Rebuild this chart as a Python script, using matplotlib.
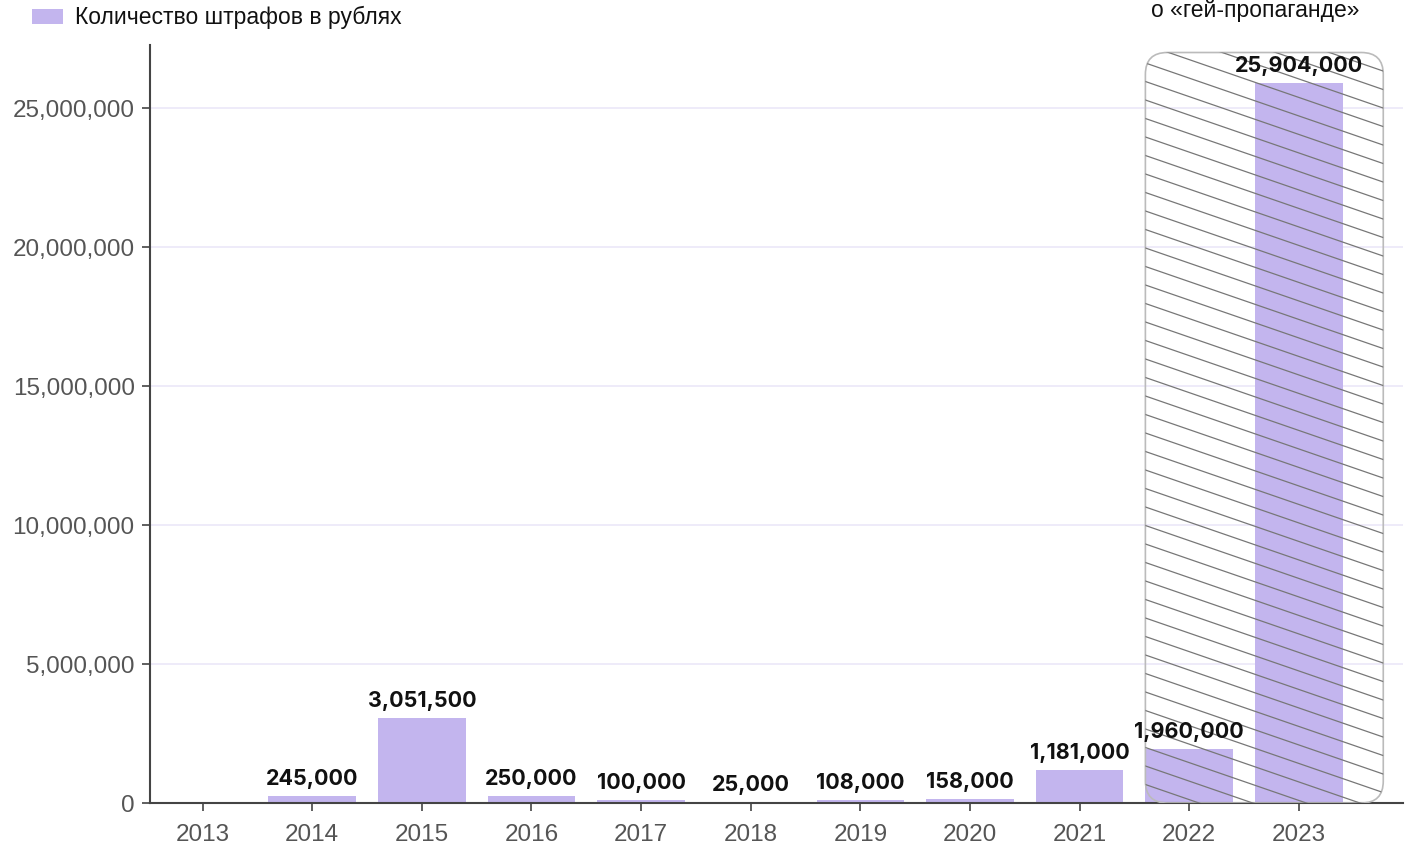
import numpy as np
import matplotlib.pyplot as plt
from matplotlib.patches import FancyBboxPatch, Rectangle

# данные
years = ['2013', '2014', '2015', '2016', '2017', '2018', '2019', '2020', '2021', '2022', '2023']
fines = [0, 245000, 3051500, 250000, 100000, 25000, 108000, 158000, 1181000, 1960000, 25904000]
y_ticks = [0, 5000000, 10000000, 15000000, 20000000, 25000000]

bar_color = '#c3b5ee'
grid_color = '#ebe8f8'

W, H = 1412, 847
fig = plt.figure(figsize=(W / 100, H / 100), dpi=100)
ax = fig.add_axes([150 / W, 1 - 803 / H, 1253 / W, 758 / H])

x = np.arange(len(years))
ax.set_xlim(-0.48, 10.95)
ax.set_ylim(0, 27270000)

ax.bar(x, fines, width=0.8, color=bar_color, zorder=2)

for xi, v in zip(x, fines):
    if v > 0:
        ax.annotate(f'{v:,}', (xi, v), xytext=(0, 5), textcoords='offset points',
                    ha='center', va='bottom', fontsize=15.5, fontweight='bold',
                    family='Inter', color='#111111', zorder=5)

ax.set_xticks(x)
ax.set_xticklabels(years)
ax.set_yticks(y_ticks)
ax.set_yticklabels([f'{t:,}' for t in y_ticks])
ax.tick_params(axis='both', length=6, width=1.2, color='#444444',
               labelsize=17.5, labelcolor='#555555', pad=5)
ax.tick_params(axis='x', pad=9)
for lab in ax.get_xticklabels() + ax.get_yticklabels():
    lab.set_family('Liberation Sans')

ax.grid(axis='y', color=grid_color, linewidth=1.2, zorder=0)
ax.set_axisbelow(True)
for s in ['top', 'right']:
    ax.spines[s].set_visible(False)
for s in ['left', 'bottom']:
    ax.spines[s].set_color('#444444')
    ax.spines[s].set_linewidth(1.5)

# выделенная область 2022-2023 с косой штриховкой
bx0, bx1, btop = 8.6, 10.77, 27000000
box = FancyBboxPatch((bx0, 0), bx1 - bx0, btop,
                     boxstyle='round,pad=0,rounding_size=0.2',
                     mutation_aspect=(27270000 / 758) * (109.6 / 1),
                     facecolor='none', edgecolor='#bbbbbb', linewidth=1.2, zorder=3)
ax.add_patch(box)

fig.canvas.draw()
(px0, py0) = ax.transData.transform((bx0, 0))
(px1, py1) = ax.transData.transform((bx1, btop))
inv = ax.transData.inverted()
slope = -0.345
step = 18.5
for c in np.arange(py0, py1 + (px1 - px0) * 0.345 + step, step):
    xs = np.array([px0, px1])
    ys = c + slope * (xs - px0)
    pts = inv.transform(np.column_stack([xs, ys]))
    ln, = ax.plot(pts[:, 0], pts[:, 1], color='#777777', linewidth=0.9, zorder=4)
    ln.set_clip_path(box)

# легенда
fig.patches.append(Rectangle((32 / W, 1 - 24 / H), 31 / W, 15 / H,
                             transform=fig.transFigure, facecolor=bar_color,
                             edgecolor='none'))
fig.text(75 / W, 1 - 17 / H, 'Количество штрафов в рублях', ha='left', va='center',
         fontsize=16.5, family='Liberation Sans', color='#111111')

fig.text(1255 / W, 1 - 10 / H, 'о «гей-пропаганде»', ha='center', va='center',
         fontsize=16.5, family='Liberation Sans', color='#111111')

fig.savefig('out.png', dpi=100)
